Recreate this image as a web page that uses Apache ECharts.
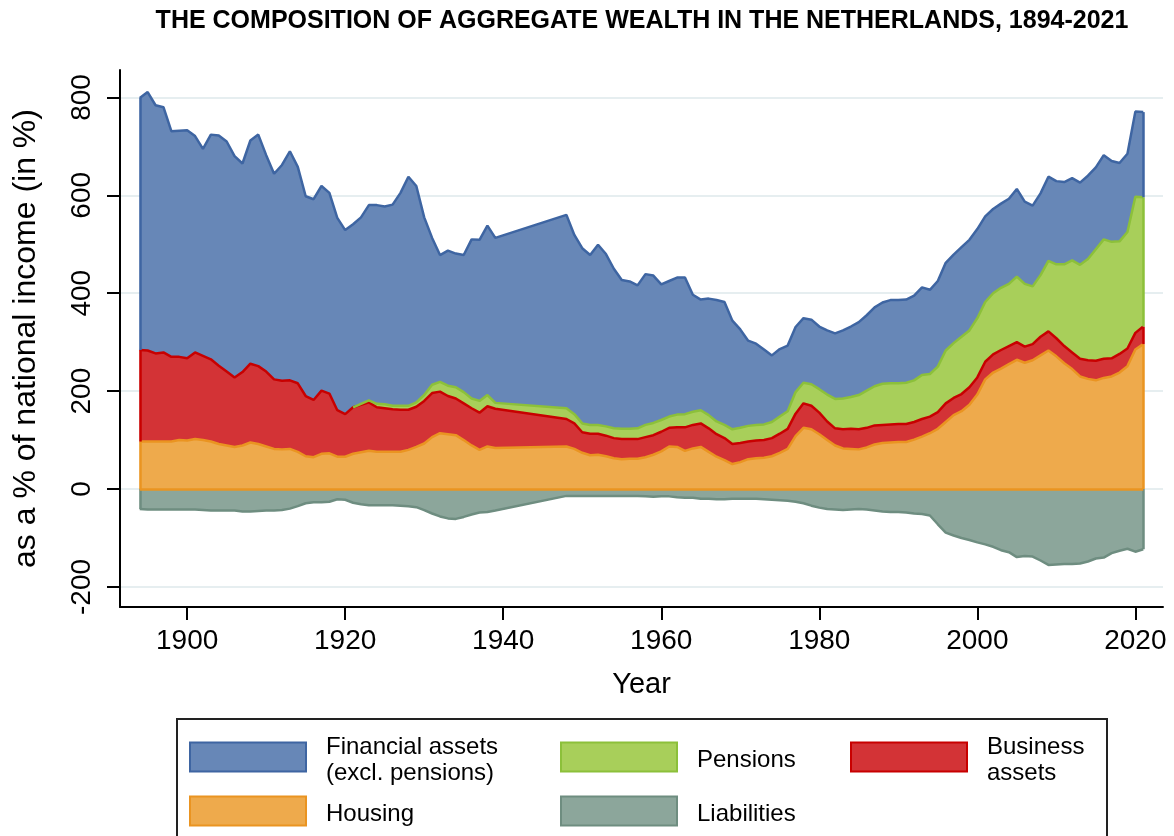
<!DOCTYPE html>
<html>
<head>
<meta charset="utf-8">
<title>The composition of aggregate wealth in the Netherlands, 1894-2021</title>
<script src="https://cdn.jsdelivr.net/npm/echarts@6/dist/echarts.min.js"></script>
<style>
  html, body { margin: 0; padding: 0; background: #ffffff; }
  #chart { width: 1174px; height: 836px; }
</style>
</head>
<body>
<div id="chart"></div>
<script>
"use strict";

// years with data (the war years 1940-1947 are missing in the source)
const range = (a, b) => Array.from({ length: b - a + 1 }, (_, i) => a + i);
const years = range(1894, 1939).concat(range(1948, 2021));

// % of national income
const housing = [
  97, 97, 97, 97, 97, 100, 99, 102, 100, 97,
  92, 89, 86, 89, 95, 92, 87, 82, 81, 82,
  76, 67, 65, 72, 73, 66, 66, 72, 75, 78,
  76, 76, 76, 76, 80, 86, 93, 106, 114, 112,
  110, 100, 89, 80, 87, 84,
  87, 82, 74, 69, 70, 67, 63, 61, 62, 62,
  65, 70, 77, 87, 86, 78, 83, 86, 76, 66,
  59, 51, 55, 61, 63, 64, 67, 74, 82, 108,
  125, 122, 112, 100, 89, 83, 82, 81, 85, 91,
  94, 95, 96, 96, 101, 107, 114, 123, 137, 151,
  159, 172, 193, 224, 238, 246, 255, 264, 258, 263,
  273, 283, 271, 257, 245, 230, 225, 222, 227, 230,
  238, 251, 285, 296
];
const business = [
  187, 186, 180, 182, 173, 170, 168, 177, 172, 168,
  160, 151, 142, 150, 161, 159, 153, 142, 140, 140,
  140, 123, 117, 129, 122, 95, 87, 95, 97, 99,
  91, 89, 87, 86, 82, 82, 87, 90, 85, 78,
  75, 75, 76, 76, 82, 80,
  56, 52, 42, 44, 43, 42, 41, 41, 40, 40,
  41, 40, 40, 38, 40, 48, 48, 48, 48, 46,
  45, 41, 39, 36, 36, 36, 37, 39, 41, 46,
  50, 48, 44, 38, 35, 39, 41, 41, 40, 39,
  37, 37, 37, 37, 36, 36, 34, 34, 38, 35,
  35, 36, 35, 36, 37, 38, 37, 36, 33, 33,
  38, 39, 37, 35, 34, 36, 38, 40, 39, 37,
  38, 36, 34, 36
];
const pensions = [
  null, null, null, null, null, null, null, null, null, null,
  null, null, null, null, null, null, null, null, null, null,
  null, null, null, null, null, null, null, 0, 2, 4,
  7, 8, 7, 8, 8, 9, 12, 17, 20, 21,
  23, 23, 20, 24, 23, 12,
  22, 19, 18, 18, 18, 19, 20, 21, 21, 22,
  25, 25, 24, 23, 26, 27, 27, 27, 27, 26,
  27, 30, 31, 32, 32, 32, 33, 35, 36, 44,
  42, 44, 48, 55, 60, 63, 65, 70, 76, 80,
  84, 84, 83, 84, 85, 90, 87, 93, 108, 112,
  117, 116, 121, 122, 125, 127, 127, 134, 128, 118,
  126, 144, 151, 167, 188, 192, 207, 228, 244, 238,
  230, 238, 278, 264
];
const financial = [
  515, 528, 507, 501, 461, 462, 466, 442, 423, 459,
  470, 470, 452, 426, 456, 473, 442, 420, 441, 468,
  442, 408, 410, 418, 410, 393, 376, 374, 381, 399,
  406, 404, 411, 435, 468, 442, 363, 300, 259, 276,
  273, 280, 325, 329, 346, 337,
  395, 366, 358, 347, 368, 352, 326, 304, 301, 292,
  308, 301, 277, 277, 280, 279, 239, 226, 238, 248,
  251, 222, 201, 174, 166, 153, 136, 138, 134, 133,
  132, 132, 128, 131, 134, 139, 144, 149, 154, 161,
  166, 170, 170, 170, 173, 179, 172, 175, 179, 181,
  183, 185, 182, 175, 172, 172, 174, 179, 168, 165,
  167, 172, 170, 168, 168, 168, 170, 167, 172, 165,
  160, 160, 174, 174
];
const liabilities = [
  -41, -42, -42, -42, -42, -42, -42, -42, -43, -44,
  -44, -44, -44, -46, -46, -45, -44, -44, -43, -40,
  -35, -29, -27, -27, -26, -21, -22, -28, -31, -33,
  -33, -33, -33, -34, -35, -37, -43, -50, -56, -60,
  -61, -57, -52, -48, -47, -44,
  -14, -14, -14, -14, -14, -14, -14, -14, -14, -14,
  -15, -16, -15, -15, -17, -18, -18, -20, -20, -21,
  -21, -20, -20, -20, -20, -21, -22, -23, -24, -26,
  -29, -34, -38, -41, -42, -43, -42, -41, -42, -44,
  -46, -47, -47, -48, -50, -51, -54, -72, -89, -95,
  -100, -104, -109, -113, -118, -125, -129, -139, -137, -138,
  -146, -155, -154, -153, -153, -152, -148, -142, -140, -131,
  -126, -122, -128, -123
];

const xTicks = [1900, 1920, 1940, 1960, 1980, 2000, 2020];
const yTicks = [-200, 0, 200, 400, 600, 800];

const font = "'Liberation Sans', Arial, Helvetica, sans-serif";
const colors = {
  financial: { fill: "#6787b7", line: "#3e65a2" },
  pensions: { fill: "#a8cf5a", line: "#8cc03a" },
  business: { fill: "#d33336", line: "#c80000" },
  housing: { fill: "#eeaa4c", line: "#ea9421" },
  liabilities: { fill: "#8ca69b", line: "#6e8d80" },
};
const labels = {
  "Financial assets (excl. pensions)": "Financial assets\n(excl. pensions)",
  "Business assets": "Business\nassets",
};

// value first, year second: the stack must run on the value column, not on the year
function pairs(values) {
  return values.map((v, i) => [v, years[i]]);
}

// layers in stacking order, used for the outline at both ends of each band
const layers = [housing, business, pensions, financial];
function bandEdges(layerIndex) {
  const ends = [0, years.length - 1];
  const out = [];
  ends.forEach((i) => {
    if (layers[layerIndex][i] === null) return;
    let lo = 0;
    for (let k = 0; k < layerIndex; k++) lo += layers[k][i] || 0;
    const hi = lo + layers[layerIndex][i];
    out.push([{ coord: [years[i], lo] }, { coord: [years[i], hi] }]);
  });
  return out;
}

function edgeLine(key, data) {
  return {
    silent: true, symbol: ["none", "none"], label: { show: false },
    lineStyle: { color: colors[key].line, width: 2.5, type: "solid" },
    emphasis: { disabled: true },
    data,
  };
}

function area(name, key, values, stack, edges) {
  return {
    name, type: "line", stack, data: pairs(values), encode: { x: 1, y: 0 },
    showSymbol: false, connectNulls: false, smooth: false,
    lineStyle: { color: colors[key].line, width: 2.5 },
    itemStyle: { color: colors[key].fill },
    areaStyle: { color: colors[key].fill, opacity: 1 },
    emphasis: { disabled: true },
    markLine: edgeLine(key, edges),
  };
}

function legendAt(name, key, left, top) {
  return {
    left, top, padding: 0, selectedMode: false,
    itemWidth: 116, itemHeight: 29,
    formatter: (n) => "{s| }\n" + (labels[n] || n),
    textStyle: {
      fontFamily: font, fontSize: 24, color: "#000", lineHeight: 26, padding: [0, 0, 0, 15],
      rich: { s: { fontSize: 1, lineHeight: 6 } },
    },
    data: [{ name, icon: "rect", itemStyle: { color: colors[key].fill, borderColor: colors[key].line, borderWidth: 2 } }],
  };
}

const last = years.length - 1;
const chart = echarts.init(document.getElementById("chart"), null, { renderer: "canvas" });
chart.setOption({
  animation: false,
  backgroundColor: "#ffffff",
  textStyle: { fontFamily: font },
  title: {
    text: "THE COMPOSITION OF AGGREGATE WEALTH IN THE NETHERLANDS, 1894-2021",
    left: 642, top: 9, textAlign: "center", padding: 0,
    textStyle: { fontFamily: font, fontSize: 25, fontWeight: "bold", color: "#000" },
  },
  grid: { left: 120, right: 11, top: 70, bottom: 229 },
  xAxis: {
    type: "value", min: 1891.5, max: 2023.5,
    name: "Year", nameLocation: "middle", nameGap: 63,
    nameTextStyle: { fontFamily: font, fontSize: 29, color: "#000" },
    axisLine: { onZero: false, lineStyle: { color: "#000", width: 2 } },
    axisTick: { customValues: xTicks, length: 13, lineStyle: { color: "#000", width: 2 } },
    axisLabel: { customValues: xTicks, margin: 20, fontSize: 28, color: "#000", fontFamily: font, formatter: (v) => String(v) },
    splitLine: { show: false },
  },
  yAxis: {
    type: "value", min: -241, max: 856,
    name: "as a % of national income (in %)", nameLocation: "middle", nameGap: 78,
    nameTextStyle: { fontFamily: font, fontSize: 32, color: "#000" },
    axisLine: { show: true, onZero: false, lineStyle: { color: "#000", width: 2 } },
    axisTick: { show: true, customValues: yTicks, length: 13, lineStyle: { color: "#000", width: 2 } },
    axisLabel: { customValues: yTicks, rotate: 90, margin: 24, fontSize: 28, color: "#000", fontFamily: font, formatter: (v) => String(v) },
    splitLine: { show: true, lineStyle: { color: "#e6eef0", width: 2 } },
  },
  legend: [
    legendAt("Financial assets (excl. pensions)", "financial", 189, 728),
    legendAt("Pensions", "pensions", 560, 741),
    legendAt("Business assets", "business", 850, 728),
    legendAt("Housing", "housing", 189, 795),
    legendAt("Liabilities", "liabilities", 560, 795),
  ],
  graphic: [{
    type: "rect", silent: true,
    shape: { x: 177, y: 719, width: 930, height: 140 },
    style: { fill: "none", stroke: "#222", lineWidth: 2 },
  }],
  series: [
    area("Liabilities", "liabilities", liabilities, null, [
      [{ coord: [years[0], liabilities[0]] }, { coord: [years[0], 0] }],
      [{ coord: [years[last], liabilities[last]] }, { coord: [years[last], 0] }],
    ]),
    area("Housing", "housing", housing, "assets",
      [[{ coord: [years[0], 0] }, { coord: [years[last], 0] }]].concat(bandEdges(0))),
    area("Business assets", "business", business, "assets", bandEdges(1)),
    area("Pensions", "pensions", pensions, "assets", bandEdges(2)),
    area("Financial assets (excl. pensions)", "financial", financial, "assets", bandEdges(3)),
  ],
});
window.addEventListener("resize", () => chart.resize());
</script>
</body>
</html>
